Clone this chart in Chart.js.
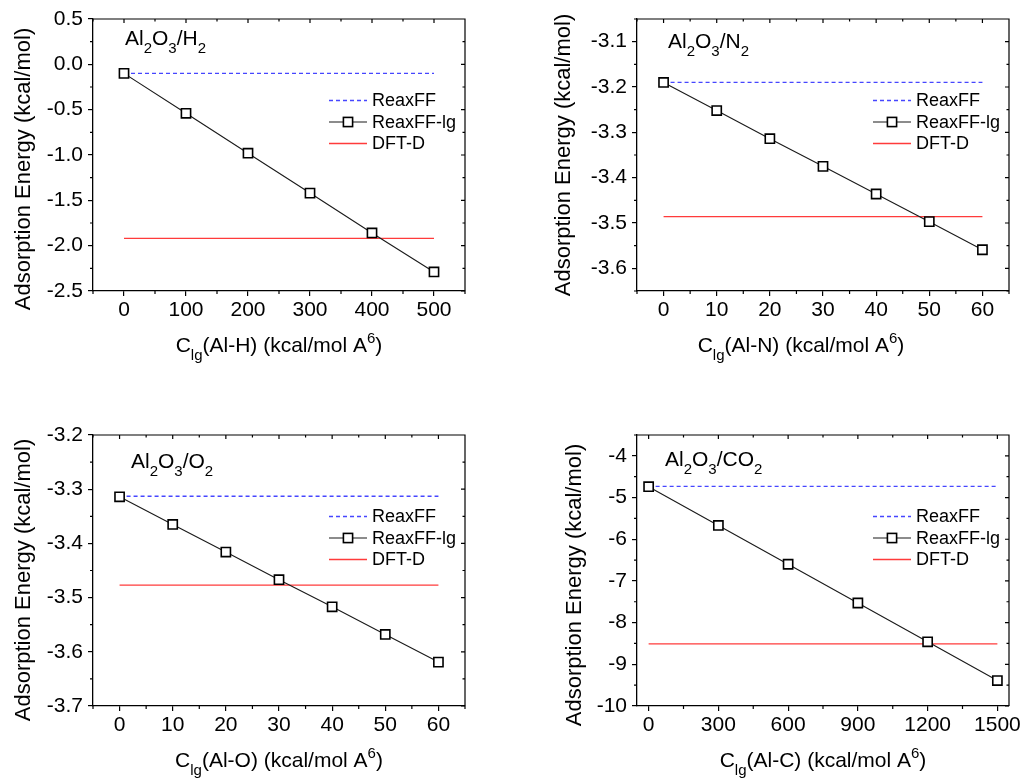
<!DOCTYPE html>
<html>
<head>
<meta charset="utf-8">
<script src="https://cdn.jsdelivr.net/npm/chart.js@4.4.1/dist/chart.umd.min.js"></script>
<style>
  body { margin: 0; background: #fff; width: 1024px; height: 779px; position: relative; overflow: hidden; }
  canvas { position: absolute; }
</style>
</head>
<body>
<canvas id="h2" width="512" height="390" style="left:0;top:0"></canvas>
<canvas id="n2" width="512" height="390" style="left:512px;top:0"></canvas>
<canvas id="o2" width="512" height="389" style="left:0;top:390px"></canvas>
<canvas id="co2" width="512" height="389" style="left:512px;top:390px"></canvas>
<script>
// --- values ---
// Al2O3/H2
const h2X = [0, 100, 200, 300, 400, 500];
const h2Lg = [-0.10, -0.54, -0.98, -1.42, -1.86, -2.29];
const h2ReaxFF = -0.10;
const h2DftD = -1.92;
const h2XTicks = ['0', '100', '200', '300', '400', '500'];
const h2YTicks = ['0.5', '0.0', '-0.5', '-1.0', '-1.5', '-2.0', '-2.5'];

// Al2O3/N2
const n2X = [0, 10, 20, 30, 40, 50, 60];
const n2Lg = [-3.190, -3.252, -3.314, -3.375, -3.436, -3.497, -3.559];
const n2ReaxFF = -3.19;
const n2DftD = -3.486;
const n2XTicks = ['0', '10', '20', '30', '40', '50', '60'];
const n2YTicks = ['-3.1', '-3.2', '-3.3', '-3.4', '-3.5', '-3.6'];

// Al2O3/O2
const o2X = [0, 10, 20, 30, 40, 50, 60];
const o2Lg = [-3.314, -3.365, -3.416, -3.467, -3.517, -3.568, -3.619];
const o2ReaxFF = -3.313;
const o2DftD = -3.477;
const o2XTicks = ['0', '10', '20', '30', '40', '50', '60'];
const o2YTicks = ['-3.2', '-3.3', '-3.4', '-3.5', '-3.6', '-3.7'];

// Al2O3/CO2
const co2X = [0, 300, 600, 900, 1200, 1500];
const co2Lg = [-4.74, -5.67, -6.60, -7.53, -8.46, -9.39];
const co2ReaxFF = -4.73;
const co2DftD = -8.51;
const co2XTicks = ['0', '300', '600', '900', '1200', '1500'];
const co2YTicks = ['-4', '-5', '-6', '-7', '-8', '-9', '-10'];

const FONT = '"Liberation Sans", Arial, sans-serif';
Chart.defaults.font.family = FONT;
Chart.defaults.color = '#000';

// minor ticks sit halfway between the labelled ones
function minors(majors, min, max) {
  const v = majors.slice().sort((a, b) => a - b);
  const half = (v[1] - v[0]) / 2;
  const out = [];
  v.forEach(m => { if (m - half >= min - 1e-9) out.push(m - half); });
  const last = v[v.length - 1] + half;
  if (last <= max + 1e-9) out.push(last);
  return out;
}

// tiny markup: _x or _{xy} = subscript, ^x = superscript
function parseRich(s) {
  const parts = [];
  let i = 0, buf = '';
  while (i < s.length) {
    const c = s[i];
    if (c === '_' || c === '^') {
      if (buf) { parts.push([buf, '']); buf = ''; }
      let t;
      if (s[i + 1] === '{') { const j = s.indexOf('}', i); t = s.slice(i + 2, j); i = j + 1; }
      else { t = s[i + 1]; i += 2; }
      parts.push([t, c === '_' ? 'sub' : 'sup']);
    } else { buf += c; i++; }
  }
  if (buf) parts.push([buf, '']);
  return parts;
}

function drawRich(ctx, text, x, y, size, center) {
  const parts = parseRich(text);
  const small = Math.round(size * 0.7);
  const fontOf = k => (k ? small : size) + 'px ' + FONT;
  let total = 0;
  parts.forEach(([t, k]) => { ctx.font = fontOf(k); total += ctx.measureText(t).width; });
  let cx = center ? x - total / 2 : x;
  ctx.textAlign = 'left';
  ctx.textBaseline = 'alphabetic';
  parts.forEach(([t, k]) => {
    ctx.font = fontOf(k);
    const dy = k === 'sub' ? size * 0.36 : k === 'sup' ? -size * 0.43 : 0;
    ctx.fillText(t, cx, y + dy);
    cx += ctx.measureText(t).width;
  });
}

const deco = {
  id: 'deco',
  afterDraw(chart, args, o) {
    const { ctx, chartArea: a } = chart;
    const xs = chart.scales.x, ys = chart.scales.y;
    const xMaj = o.xTicks.map(Number), yMaj = o.yTicks.map(Number);
    const xMin = minors(xMaj, xs.min, xs.max), yMin = minors(yMaj, ys.min, ys.max);
    ctx.save();
    ctx.strokeStyle = '#000';
    ctx.lineWidth = 1.2;
    ctx.beginPath();
    ctx.moveTo(a.left, a.top); ctx.lineTo(a.right, a.top); ctx.lineTo(a.right, a.bottom);
    // minor ticks outside, all ticks mirrored inside on top/right
    xMin.forEach(v => { const px = xs.getPixelForValue(v); ctx.moveTo(px, a.bottom); ctx.lineTo(px, a.bottom + 3); });
    yMin.forEach(v => { const py = ys.getPixelForValue(v); ctx.moveTo(a.left, py); ctx.lineTo(a.left - 3, py); });
    xMaj.forEach(v => { const px = xs.getPixelForValue(v); ctx.moveTo(px, a.top); ctx.lineTo(px, a.top + 4); });
    xMin.forEach(v => { const px = xs.getPixelForValue(v); ctx.moveTo(px, a.top); ctx.lineTo(px, a.top + 2.5); });
    yMaj.forEach(v => { const py = ys.getPixelForValue(v); ctx.moveTo(a.right, py); ctx.lineTo(a.right - 4, py); });
    yMin.forEach(v => { const py = ys.getPixelForValue(v); ctx.moveTo(a.right, py); ctx.lineTo(a.right - 2.5, py); });
    ctx.stroke();

    ctx.fillStyle = '#000';
    // panel label
    drawRich(ctx, o.label, a.left + o.labelPos[0], a.top + o.labelPos[1], 21, false);
    // x title
    drawRich(ctx, o.xTitle, (a.left + a.right) / 2 + o.xTitleDx, a.bottom + 61, 21, true);
    // y title
    ctx.save();
    ctx.translate(o.yTitlePos[0], o.yTitlePos[1]);
    ctx.rotate(-Math.PI / 2);
    ctx.font = '22px ' + FONT;
    ctx.textAlign = 'center';
    ctx.textBaseline = 'middle';
    ctx.fillText(o.yTitle, 0, 0);
    ctx.restore();

    // legend, styled from the datasets
    const x0 = a.right - 136;
    const rows = [81.5, 103, 124.5];
    chart.data.datasets.forEach((ds, i) => {
      const y = a.top + rows[i];
      ctx.save();
      ctx.strokeStyle = ds.borderColor;
      ctx.lineWidth = ds.borderWidth;
      ctx.setLineDash(ds.borderDash || []);
      ctx.beginPath(); ctx.moveTo(x0, y); ctx.lineTo(x0 + 38, y); ctx.stroke();
      ctx.restore();
      if (ds.pointRadius > 0) {
        ctx.save();
        ctx.fillStyle = ds.pointBackgroundColor;
        ctx.strokeStyle = ds.pointBorderColor;
        ctx.lineWidth = ds.pointBorderWidth;
        const s = Math.SQRT1_2 * ds.pointRadius;
        ctx.fillRect(x0 + 19 - s, y - s, 2 * s, 2 * s);
        ctx.strokeRect(x0 + 19 - s, y - s, 2 * s, 2 * s);
        ctx.restore();
      }
      ctx.fillStyle = '#000';
      ctx.font = '18px ' + FONT;
      ctx.textAlign = 'left';
      ctx.textBaseline = 'middle';
      ctx.fillText(ds.label, x0 + 43, y + 1);
    });
    ctx.restore();
  }
};

function makeChart(p) {
  const span = [p.x[0], p.x[p.x.length - 1]];
  const flat = v => span.map(x => ({ x, y: v }));
  new Chart(document.getElementById(p.id), {
    type: 'line',
    data: {
      datasets: [
        { label: 'ReaxFF', data: flat(p.reax), borderColor: '#4646ff', borderWidth: 1.3,
          borderDash: [4, 3], pointRadius: 0, order: 1 },
        { label: 'ReaxFF-lg', data: p.x.map((x, i) => ({ x, y: p.lg[i] })), borderColor: '#1a1a1a',
          borderWidth: 1.1, pointStyle: 'rect', pointRadius: 6.5, pointBorderWidth: 1.6,
          pointBackgroundColor: '#fff', pointBorderColor: '#000', order: 0 },
        { label: 'DFT-D', data: flat(p.dft), borderColor: '#ff3b3b', borderWidth: 1.3, pointRadius: 0, order: 2 }
      ]
    },
    options: {
      responsive: false,
      animation: false,
      layout: { padding: { left: 0, top: p.area.top, right: p.w - p.area.right, bottom: 0 } },
      plugins: {
        legend: { display: false },
        tooltip: { enabled: false },
        deco: { xTicks: p.xTicks, yTicks: p.yTicks, label: p.label, labelPos: p.labelPos,
                xTitle: p.xTitle, xTitleDx: p.xTitleDx, yTitle: 'Adsorption Energy (kcal/mol)', yTitlePos: p.yTitlePos }
      },
      scales: {
        x: {
          type: 'linear', min: p.xMin, max: p.xMax,
          afterBuildTicks: s => { s.ticks = p.xTicks.map(t => ({ value: Number(t) })); },
          afterFit: s => { s.height = p.h - p.area.bottom; },
          ticks: { callback: (v, i) => p.xTicks[i], font: { size: 21 }, padding: 2, maxRotation: 0, autoSkip: false },
          grid: { drawOnChartArea: false, tickLength: 5, color: '#000', lineWidth: 1.2 },
          border: { color: '#000', width: 1.3 }
        },
        y: {
          type: 'linear', min: p.yMin, max: p.yMax,
          afterBuildTicks: s => { s.ticks = p.yTicks.map(t => ({ value: Number(t) })); },
          afterFit: s => { s.width = p.area.left; },
          ticks: { callback: (v, i) => p.yTicks[i], font: { size: 21 }, padding: 5, autoSkip: false },
          grid: { drawOnChartArea: false, tickLength: 5, color: '#000', lineWidth: 1.2 },
          border: { color: '#000', width: 1.3 }
        }
      }
    },
    plugins: [deco]
  });
}

makeChart({ id: 'h2', w: 512, h: 390, area: { left: 93, right: 465, top: 19, bottom: 291 },
  x: h2X, lg: h2Lg, reax: h2ReaxFF, dft: h2DftD, xTicks: h2XTicks, yTicks: h2YTicks,
  xMin: -50, xMax: 550, yMin: -2.5, yMax: 0.5,
  label: 'Al_2O_3/H_2', labelPos: [32, 26], xTitle: 'C_{lg}(Al-H) (kcal/mol A^6)', xTitleDx: 0, yTitlePos: [24, 169] });

makeChart({ id: 'n2', w: 512, h: 390, area: { left: 125, right: 497, top: 19, bottom: 291 },
  x: n2X, lg: n2Lg, reax: n2ReaxFF, dft: n2DftD, xTicks: n2XTicks, yTicks: n2YTicks,
  xMin: -5, xMax: 65, yMin: -3.65, yMax: -3.05,
  label: 'Al_2O_3/N_2', labelPos: [31, 29], xTitle: 'C_{lg}(Al-N) (kcal/mol A^6)', xTitleDx: -22, yTitlePos: [52, 155] });

makeChart({ id: 'o2', w: 512, h: 389, area: { left: 93, right: 465, top: 45, bottom: 316 },
  x: o2X, lg: o2Lg, reax: o2ReaxFF, dft: o2DftD, xTicks: o2XTicks, yTicks: o2YTicks,
  xMin: -5, xMax: 65, yMin: -3.7, yMax: -3.2,
  label: 'Al_2O_3/O_2', labelPos: [38, 33], xTitle: 'C_{lg}(Al-O) (kcal/mol A^6)', xTitleDx: 0, yTitlePos: [24, 190] });

makeChart({ id: 'co2', w: 512, h: 389, area: { left: 125, right: 497, top: 45, bottom: 316 },
  x: co2X, lg: co2Lg, reax: co2ReaxFF, dft: co2DftD, xTicks: co2XTicks, yTicks: co2YTicks,
  xMin: -50, xMax: 1550, yMin: -10, yMax: -3.5,
  label: 'Al_2O_3/CO_2', labelPos: [28, 31], xTitle: 'C_{lg}(Al-C) (kcal/mol A^6)', xTitleDx: 0, yTitlePos: [63, 195] });
</script>
</body>
</html>
